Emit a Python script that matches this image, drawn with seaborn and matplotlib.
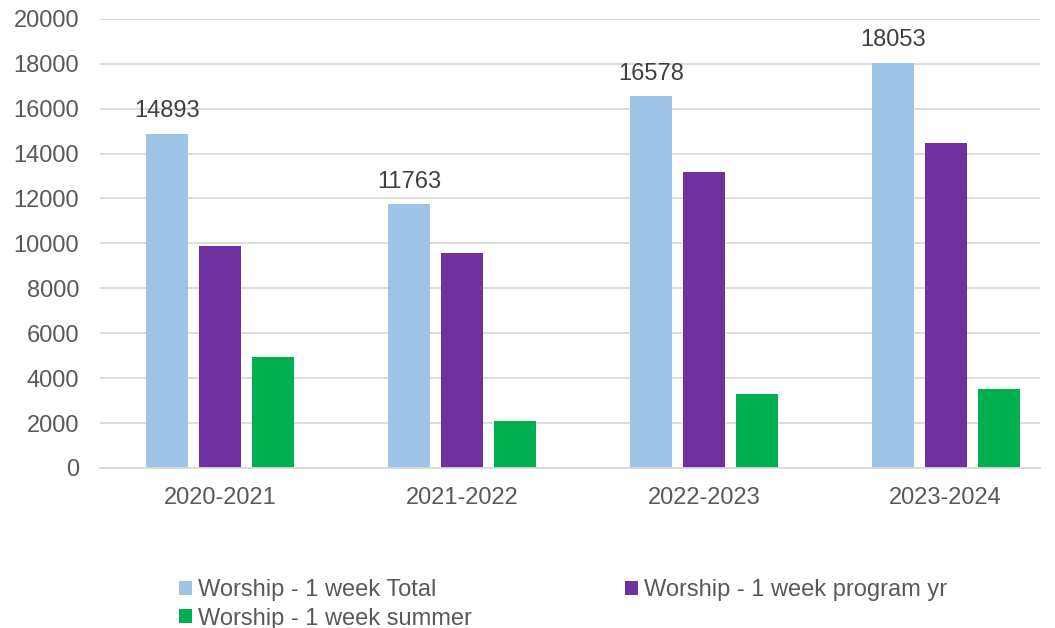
import pandas as pd
import matplotlib.pyplot as plt
import seaborn as sns


# chart data
seasons = ['2020-2021', '2021-2022', '2022-2023', '2023-2024']
series_names = ['Worship - 1 week Total', 'Worship - 1 week program yr', 'Worship - 1 week summer']
total = [14893, 11763, 16578, 18053]
program_yr = [9890, 9560, 13190, 14460]
summer = [4930, 2110, 3310, 3520]
colors = ['#9DC3E6', '#7030A0', '#00B050']


# long form table for seaborn
df = pd.DataFrame({
    'season': seasons * 3,
    'series': [series_names[0]] * 4 + [series_names[1]] * 4 + [series_names[2]] * 4,
    'value': total + program_yr + summer,
})


sns.set_style('white')
plt.rcParams['font.family'] = ['Liberation Sans', 'DejaVu Sans']

fig = plt.figure(figsize=(10.55, 6.28), dpi=100)
ax = fig.add_axes([0.0948, 0.2548, 0.891, 0.7152])

sns.barplot(data=df, x='season', y='value', hue='series', palette=colors,
            saturation=1, width=0.657, gap=0.207, linewidth=0, ax=ax, legend=True)

ax.set_ylim(0, 20000)
ax.set_yticks(range(0, 20001, 2000))
ax.set_xlim(-0.496, 3.39)
ax.yaxis.grid(True, color='#D9D9D9', linewidth=1.3)
ax.set_axisbelow(True)
for side in ['top', 'right', 'left']:
    ax.spines[side].set_visible(False)
ax.spines['bottom'].set_color('#D9D9D9')
ax.spines['bottom'].set_linewidth(1.3)
ax.tick_params(axis='both', length=0, labelsize=17, colors='#595959')
ax.tick_params(axis='y', pad=15)
ax.tick_params(axis='x', pad=13.5)
ax.set_xlabel('')
ax.set_ylabel('')

# data labels only on the total series
ax.bar_label(ax.containers[0], fontsize=17, color='#404040', padding=8)

# legend filled row by row like the original: Total, program yr / summer
handles, labels = ax.get_legend_handles_labels()
ax.get_legend().remove()
order = [0, 2, 1]
fig.legend([handles[i] for i in order], [labels[i] for i in order],
           loc='upper left', bbox_to_anchor=(0.1697, 0.078),
           ncol=2, frameon=False, fontsize=17, labelcolor='#595959',
           handlelength=0.55, handleheight=0.55, handletextpad=0.25,
           columnspacing=6.5, labelspacing=0.28, borderpad=0, borderaxespad=0)

fig.savefig('out.png', dpi=100)
